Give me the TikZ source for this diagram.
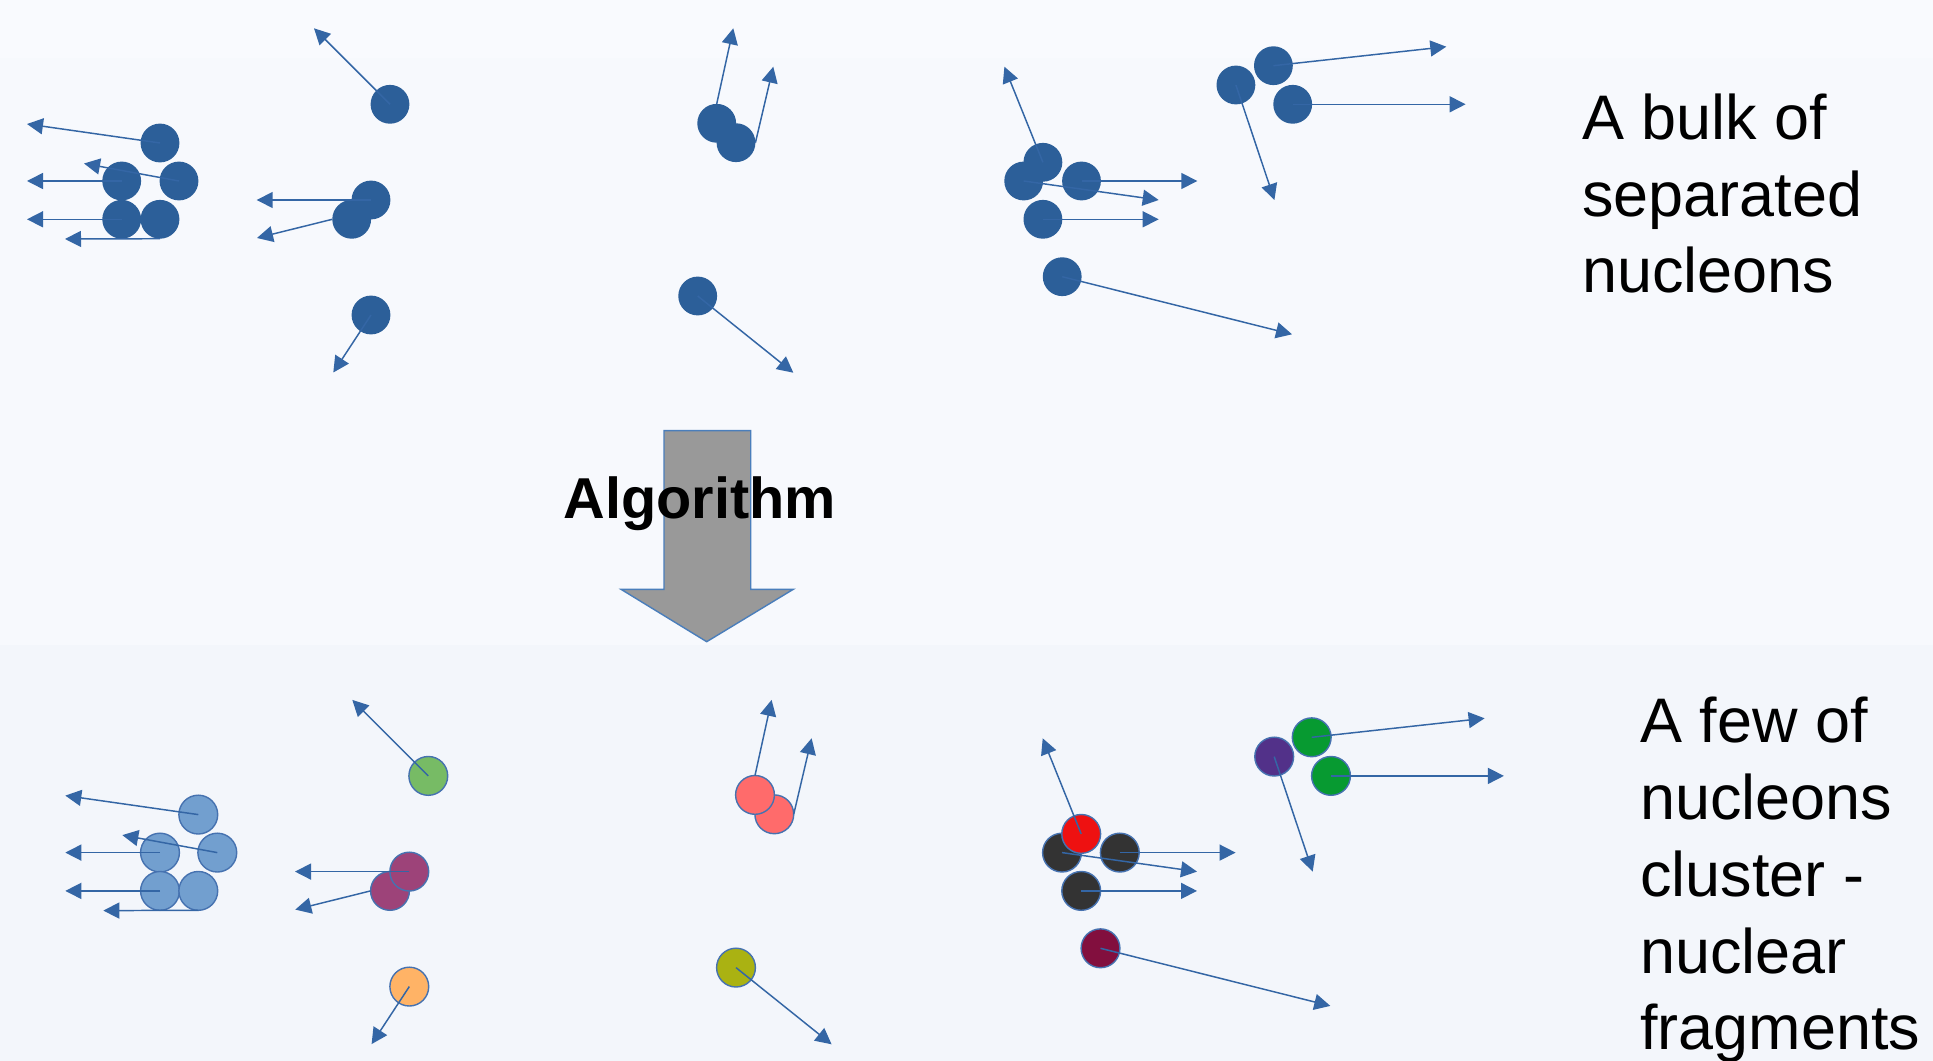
\documentclass[tikz,border=0pt]{standalone}
\usepackage{fontspec}
\setmainfont{Liberation Sans}
\usetikzlibrary{arrows.meta}
\definecolor{nucdark}{HTML}{2C5F99}
\definecolor{arrowc}{HTML}{3466A5}
\definecolor{nucborder}{HTML}{4672B0}
\definecolor{bgband}{HTML}{F9FAFE}
\definecolor{bgtop}{HTML}{F7F9FD}
\definecolor{bgbot}{HTML}{F3F6FB}
\definecolor{bigarrow}{HTML}{999999}
\definecolor{bigarrowline}{HTML}{4A7EBB}
\definecolor{botA}{HTML}{729FCF}
\definecolor{botB}{HTML}{77BB65}
\definecolor{botC}{HTML}{9D4379}
\definecolor{botD}{HTML}{FFB366}
\definecolor{botE}{HTML}{FF6B6B}
\definecolor{botF}{HTML}{AAB212}
\definecolor{botG}{HTML}{EE1111}
\definecolor{botH}{HTML}{333333}
\definecolor{botI}{HTML}{820F3E}
\definecolor{botJ}{HTML}{523189}
\definecolor{botK}{HTML}{079A31}
\colorlet{topA}{nucdark}\colorlet{topB}{nucdark}\colorlet{topC}{nucdark}
\colorlet{topD}{nucdark}\colorlet{topE}{nucdark}\colorlet{topF}{nucdark}
\colorlet{topG}{nucdark}\colorlet{topH}{nucdark}\colorlet{topI}{nucdark}
\colorlet{topJ}{nucdark}\colorlet{topK}{nucdark}
\tikzset{
  nuc/.style={circle, minimum size=0.388cm, inner sep=0pt, outer sep=0pt},
  topstyle/.style={},
  botstyle/.style={draw=nucborder, line width=0.4pt},
  mv/.style={draw=arrowc, line width=0.42pt, -{Triangle[length=0.16cm,width=0.16cm]}},
  label/.style={anchor=base west, inner sep=0pt, font=\fontsize{17.9}{21.7}\selectfont},
}
\newcommand\drawset[1]{%
  % circles
  \node[nuc,#1style,fill=#1A] (#1a1) at (160,143) {};
  \node[nuc,#1style,fill=#1A] (#1a2) at (121.7,181) {};
  \node[nuc,#1style,fill=#1A] (#1a3) at (179,181) {};
  \node[nuc,#1style,fill=#1A] (#1a4) at (121.7,219.3) {};
  \node[nuc,#1style,fill=#1A] (#1a5) at (160,219.3) {};
  \node[nuc,#1style,fill=#1B] (#1b1) at (390,104.3) {};
  \node[nuc,#1style,fill=#1C] (#1b2) at (351.7,219.3) {};
  \node[nuc,#1style,fill=#1C] (#1b3) at (371,200) {};
  \node[nuc,#1style,fill=#1D] (#1b4) at (371,315) {};
  \node[nuc,#1style,fill=#1E] (#1c2) at (736,142.7) {};
  \node[nuc,#1style,fill=#1E] (#1c1) at (716.7,123.3) {};
  \node[nuc,#1style,fill=#1F] (#1c3) at (697.7,296) {};
  \node[nuc,#1style,fill=#1H] (#1d2) at (1023.7,181) {};
  \node[nuc,#1style,fill=#1G] (#1d1) at (1042.9,162.3) {};
  \node[nuc,#1style,fill=#1H] (#1d3) at (1081.5,181) {};
  \node[nuc,#1style,fill=#1H] (#1d4) at (1042.9,219.3) {};
  \node[nuc,#1style,fill=#1I] (#1d5) at (1062.2,276.7) {};
  \node[nuc,#1style,fill=#1J] (#1e1) at (1235.9,85) {};
  \node[nuc,#1style,fill=#1K] (#1e2) at (1273.4,65.7) {};
  \node[nuc,#1style,fill=#1K] (#1e3) at (1292.7,104.3) {};
  % arrow ends
  \coordinate (#1ta1) at (27,124);
  \coordinate (#1ta2) at (27,181);
  \coordinate (#1ta3) at (84,163.5);
  \coordinate (#1ta4) at (27,219.3);
  \coordinate (#1ta5) at (65,239);
  \coordinate (#1tb1) at (314,28.3);
  \coordinate (#1tb2) at (257,238);
  \coordinate (#1tb3) at (256.7,200);
  \coordinate (#1tb4) at (333.3,372.5);
  \coordinate (#1tc1) at (733.3,28.3);
  \coordinate (#1tc2) at (773.3,66.7);
  \coordinate (#1tc3) at (793.3,372.7);
  \coordinate (#1td1) at (1004.4,66.7);
  \coordinate (#1td2) at (1158.7,200);
  \coordinate (#1td3) at (1197.3,181);
  \coordinate (#1td4) at (1158.7,219.3);
  \coordinate (#1td5) at (1292,334.3);
  \coordinate (#1te1) at (1274.4,200);
  \coordinate (#1te2) at (1446.3,46.7);
  \coordinate (#1te3) at (1465.6,104.3);
  % arrows
  \draw[mv] (#1a1.center) -- (#1ta1);
  \draw[mv] (#1a2.center) -- (#1ta2);
  \draw[mv] (#1a3.center) -- (#1ta3);
  \draw[mv] (#1a4.center) -- (#1ta4);
  \draw[mv] (#1a5.south) -- (#1ta5);
  \draw[mv] (#1b1.center) -- (#1tb1);
  \draw[mv] (#1b2.west) -- (#1tb2);
  \draw[mv] (#1b3.center) -- (#1tb3);
  \draw[mv] (#1b4.center) -- (#1tb4);
  \draw[mv] (#1c1.north) -- (#1tc1);
  \draw[mv] (#1c2.east) -- (#1tc2);
  \draw[mv] (#1c3.center) -- (#1tc3);
  \draw[mv] (#1d1.center) -- (#1td1);
  \draw[mv] (#1d2.center) -- (#1td2);
  \draw[mv] (#1d3.center) -- (#1td3);
  \draw[mv] (#1d4.center) -- (#1td4);
  \draw[mv] (#1d5.center) -- (#1td5);
  \draw[mv] (#1e1.center) -- (#1te1);
  \draw[mv] (#1e2.center) -- (#1te2);
  \draw[mv] (#1e3.center) -- (#1te3);
}
\begin{document}
\begin{tikzpicture}[x=0.01cm,y=-0.01cm]
  \useasboundingbox (0,0) rectangle (1933,1061);
  % background
  \fill[bgtop] (0,0) rectangle (1933,645);
  \fill[bgband] (0,0) rectangle (1933,58);
  \fill[bgbot] (0,645) rectangle (1933,1061);
  % top configuration
  \drawset{top}
  % bottom configuration
  \begin{scope}[shift={(38.3,671.6)}]
    \drawset{bot}
  \end{scope}
  % big arrow
  \draw[fill=bigarrow, draw=bigarrowline, line width=0.4pt]
    (664,430.7) -- (750.7,430.7) -- (750.7,589.3) -- (793.3,589.3)
    -- (706.7,641.7) -- (621,589.3) -- (664,589.3) -- cycle;
  \node[anchor=base west, inner sep=0pt, font=\fontsize{16.4}{19}\selectfont\bfseries]
    (algo) at (563,518.3) {Algorithm};
  % texts
  \node[label] (t1) at (1581.7,140) {A bulk of};
  \node[label] (t2) at (1581.7,216.7) {separated};
  \node[label] (t3) at (1581.7,292.7) {nucleons};
  \node[label] (u1) at (1639.5,742.7) {A few of};
  \node[label] (u2) at (1639.5,819.3) {nucleons};
  \node[label] (u3) at (1639.5,896) {cluster -};
  \node[label] (u4) at (1639.5,973.3) {nuclear};
  \node[label] (u5) at (1639.5,1049.5) {fragments};
\end{tikzpicture}
\end{document}
